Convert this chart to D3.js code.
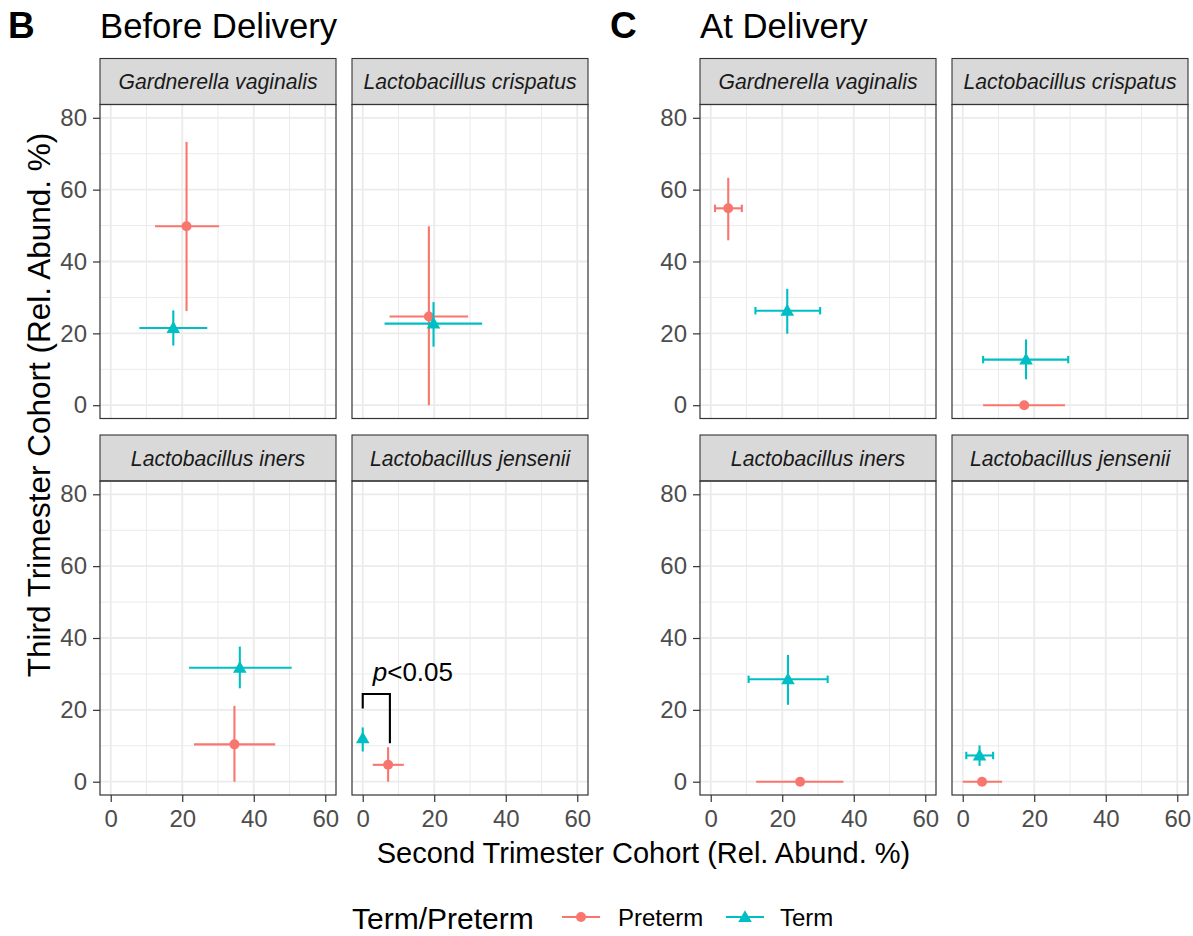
<!DOCTYPE html>
<html>
<head>
<meta charset="utf-8">
<script src="https://cdn.jsdelivr.net/npm/d3@7"></script>
<style>
  html, body { margin: 0; padding: 0; background: #fff; }
  svg { display: block; font-family: "Liberation Sans", Arial, Helvetica, sans-serif; }
</style>
</head>
<body>
<svg id="chart" width="1193" height="936"></svg>
<script>
// ---------------- DATA ----------------
const species = ["Gardnerella vaginalis", "Lactobacillus crispatus", "Lactobacillus iners", "Lactobacillus jensenii"];
const sectionTitles = ["Before Delivery", "At Delivery"];
const sectionLetters = ["B", "C"];
const groups = ["Preterm", "Term"];
const xTicks = [0, 20, 40, 60];
const yTicks = [0, 20, 40, 60, 80];
const xTitle = "Second Trimester Cohort (Rel. Abund. %)";
const yTitle = "Third Trimester Cohort (Rel. Abund. %)";
const legendTitle = "Term/Preterm";

// each row: [x mean, x low, x high, y mean, y low, y high] per species
const beforePreterm = [
  [21.2, 12.4, 30.3, 49.8, 26.2, 73.3],
  [18.5,  7.5, 29.5, 24.7,  0.0, 49.8],
  [34.6, 23.3, 46.0, 10.4,  0.0, 21.1],
  [ 7.1,  2.8, 11.5,  4.7,  0.0,  9.6]
];
const beforeTerm = [
  [17.5,  8.0, 27.0, 21.5, 16.6, 26.4],
  [19.8,  6.1, 33.4, 22.7, 16.3, 28.7],
  [36.1, 21.9, 50.6, 31.7, 26.0, 37.6],
  [ 0.0,  0.0,  0.0, 12.1,  8.4, 15.1]
];
const atPreterm = [
  [ 4.9,  1.2,  8.7, 54.8, 45.9, 63.3],
  [17.2,  5.7, 28.6,  0.0,  0.0,  0.0],
  [25.0, 12.7, 37.1,  0.0,  0.0,  0.0],
  [ 5.4,  0.0, 11.0,  0.0,  0.0,  0.0]
];
const atTerm = [
  [21.4, 12.5, 30.6, 26.3, 19.9, 32.4],
  [17.7,  5.7, 29.5, 12.7,  7.2, 18.3],
  [21.6, 10.6, 32.7, 28.5, 21.4, 35.3],
  [ 4.7,  1.0,  8.5,  7.3,  4.4, 10.1]
];
// significance annotation in "Before Delivery" / L. jensenii
const annotBracketX = [0, 7.6];
const annotBracketY = [20.4, 24.4, 10.7];
const annotLabelPos = [2.8, 27.9];

// ---------------- STYLE / LAYOUT ----------------
const colors = { Preterm: "#F8766D", Term: "#00BFC4" };
const sectionData = [
  { Preterm: beforePreterm, Term: beforeTerm, caps: false },
  { Preterm: atPreterm, Term: atTerm, caps: true }
];
const panelLeft = [[100, 352], [700, 952]];
const panelTop = [104.5, 481];
const panelW = 236, panelH = 314, stripH = 46;
const tickFont = 24, stripFont = 21.2;
const lineW = 2.1, pointR = 5, triSize = 80;

const svg = d3.select("#chart");
svg.append("rect").attr("width", 1193).attr("height", 936).attr("fill", "#fff");

const xDomain = [-3, 63];
const yDomain = [-3.7, 83.7];

sectionData.forEach((sec, si) => {
  // section title
  svg.append("text").attr("x", si === 0 ? 8 : 610).attr("y", 38)
    .attr("font-size", 37).attr("font-weight", "bold").attr("fill", "#000")
    .text(sectionLetters[si]);
  svg.append("text").attr("x", panelLeft[si][0]).attr("y", 38)
    .attr("font-size", 34.7).attr("fill", "#000").text(sectionTitles[si]);

  species.forEach((sp, k) => {
    const row = Math.floor(k / 2), col = k % 2;
    const left = panelLeft[si][col], top = panelTop[row];
    const x = d3.scaleLinear().domain(xDomain).range([left, left + panelW]);
    const y = d3.scaleLinear().domain(yDomain).range([top + panelH, top]);
    const g = svg.append("g");

    // panel background
    g.append("rect").attr("x", left).attr("y", top).attr("width", panelW).attr("height", panelH).attr("fill", "#fff");
    // minor grid
    const xMinor = [10, 30, 50], yMinor = [10, 30, 50, 70];
    g.selectAll(null).data(xMinor).enter().append("line")
      .attr("x1", d => x(d)).attr("x2", d => x(d)).attr("y1", top).attr("y2", top + panelH)
      .attr("stroke", "#ebebeb").attr("stroke-width", 1);
    g.selectAll(null).data(yMinor).enter().append("line")
      .attr("y1", d => y(d)).attr("y2", d => y(d)).attr("x1", left).attr("x2", left + panelW)
      .attr("stroke", "#ebebeb").attr("stroke-width", 1);
    // major grid
    g.selectAll(null).data(xTicks).enter().append("line")
      .attr("x1", d => x(d)).attr("x2", d => x(d)).attr("y1", top).attr("y2", top + panelH)
      .attr("stroke", "#ebebeb").attr("stroke-width", 1.8);
    g.selectAll(null).data(yTicks).enter().append("line")
      .attr("y1", d => y(d)).attr("y2", d => y(d)).attr("x1", left).attr("x2", left + panelW)
      .attr("stroke", "#ebebeb").attr("stroke-width", 1.8);

    // strip
    g.append("rect").attr("x", left).attr("y", top - stripH).attr("width", panelW).attr("height", stripH)
      .attr("fill", "#d9d9d9").attr("stroke", "#333333").attr("stroke-width", 1.1);
    g.append("text").attr("x", left + panelW / 2).attr("y", top - stripH / 2 + 7.5)
      .attr("text-anchor", "middle").attr("font-size", stripFont).attr("font-style", "italic")
      .attr("fill", "#1a1a1a").text(sp);

    // axes (y on first column, x on bottom row)
    if (col === 0) {
      const ya = d3.axisLeft(y).tickValues(yTicks).tickSize(7).tickPadding(6);
      const ag = g.append("g").attr("transform", `translate(${left},0)`).call(ya);
      ag.select(".domain").remove();
      ag.selectAll(".tick line").attr("stroke", "#333333").attr("stroke-width", 1.2);
      ag.selectAll(".tick text").attr("font-size", tickFont).attr("fill", "#4d4d4d")
        .attr("font-family", "Liberation Sans, Arial, sans-serif");
    }
    if (row === 1) {
      const xa = d3.axisBottom(x).tickValues(xTicks).tickSize(7).tickPadding(8);
      const ag = g.append("g").attr("transform", `translate(0,${top + panelH})`).call(xa);
      ag.select(".domain").remove();
      ag.selectAll(".tick line").attr("stroke", "#333333").attr("stroke-width", 1.2);
      ag.selectAll(".tick text").attr("font-size", tickFont).attr("fill", "#4d4d4d")
        .attr("font-family", "Liberation Sans, Arial, sans-serif");
    }

    // data marks
    groups.forEach(grp => {
      const d = sec[grp][k];
      const c = colors[grp];
      const [xm, xl, xh, ym, yl, yh] = d;
      const mg = g.append("g");
      if (yh > yl) {
        mg.append("line").attr("x1", x(xm)).attr("x2", x(xm)).attr("y1", y(yl)).attr("y2", y(yh))
          .attr("stroke", c).attr("stroke-width", lineW);
      }
      if (xh > xl) {
        mg.append("line").attr("x1", x(xl)).attr("x2", x(xh)).attr("y1", y(ym)).attr("y2", y(ym))
          .attr("stroke", c).attr("stroke-width", lineW);
        if (sec.caps && yh > yl) {
          [xl, xh].forEach(v => {
            mg.append("line").attr("x1", x(v)).attr("x2", x(v)).attr("y1", y(ym) - 3.7).attr("y2", y(ym) + 3.7)
              .attr("stroke", c).attr("stroke-width", lineW);
          });
        }
      }
      if (grp === "Preterm") {
        mg.append("circle").attr("cx", x(xm)).attr("cy", y(ym)).attr("r", pointR).attr("fill", c);
      } else {
        mg.append("path").attr("d", d3.symbol(d3.symbolTriangle, triSize)())
          .attr("transform", `translate(${x(xm)},${y(ym) + 1})`).attr("fill", c);
      }
    });

    // annotation
    if (si === 0 && k === 3) {
      const pts = [[annotBracketX[0], annotBracketY[0]], [annotBracketX[0], annotBracketY[1]],
                   [annotBracketX[1], annotBracketY[1]], [annotBracketX[1], annotBracketY[2]]];
      g.append("path").attr("d", d3.line().x(p => x(p[0])).y(p => y(p[1]))(pts))
        .attr("fill", "none").attr("stroke", "#000").attr("stroke-width", lineW);
      const t = g.append("text").attr("x", x(annotLabelPos[0])).attr("y", y(annotLabelPos[1]))
        .attr("font-size", 26).attr("fill", "#000");
      t.append("tspan").attr("font-style", "italic").text("p");
      t.append("tspan").text("<0.05");
    }

    // panel border
    g.append("rect").attr("x", left).attr("y", top).attr("width", panelW).attr("height", panelH)
      .attr("fill", "none").attr("stroke", "#333333").attr("stroke-width", 1.2);
  });
});

// axis titles
svg.append("text").attr("x", 643.5).attr("y", 863).attr("text-anchor", "middle")
  .attr("font-size", 29).attr("fill", "#000").text(xTitle);
svg.append("text").attr("transform", "translate(50,405) rotate(-90)").attr("text-anchor", "middle")
  .attr("font-size", 31.5).attr("fill", "#000").text(yTitle);

// legend
const lg = svg.append("g");
lg.append("text").attr("x", 352).attr("y", 929).attr("font-size", 30).attr("fill", "#000").text(legendTitle);
const legendKeys = [{ g: "Preterm", x0: 562, tx: 618 }, { g: "Term", x0: 726, tx: 780 }];
legendKeys.forEach(kk => {
  const c = colors[kk.g];
  lg.append("line").attr("x1", kk.x0).attr("x2", kk.x0 + 38).attr("y1", 917).attr("y2", 917)
    .attr("stroke", c).attr("stroke-width", lineW);
  if (kk.g === "Preterm") {
    lg.append("circle").attr("cx", kk.x0 + 19).attr("cy", 917).attr("r", pointR).attr("fill", c);
  } else {
    lg.append("path").attr("d", d3.symbol(d3.symbolTriangle, triSize)())
      .attr("transform", `translate(${kk.x0 + 19},918)`).attr("fill", c);
  }
  lg.append("text").attr("x", kk.tx).attr("y", 926).attr("font-size", 24).attr("fill", "#000").text(kk.g);
});
</script>
</body>
</html>
